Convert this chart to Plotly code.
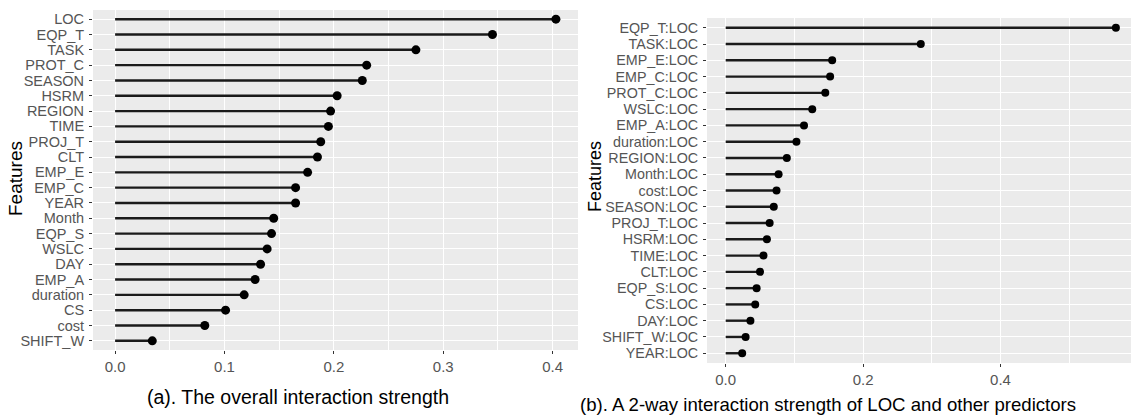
import plotly.graph_objects as go

# Overall interaction strength per feature (top to bottom)
features_a = ["LOC", "EQP_T", "TASK", "PROT_C", "SEASON", "HSRM", "REGION", "TIME",
              "PROJ_T", "CLT", "EMP_E", "EMP_C", "YEAR", "Month", "EQP_S", "WSLC",
              "DAY", "EMP_A", "duration", "CS", "cost", "SHIFT_W"]
strength_a = [0.403, 0.345, 0.275, 0.230, 0.226, 0.203, 0.197, 0.195,
              0.188, 0.185, 0.176, 0.165, 0.165, 0.145, 0.143, 0.139,
              0.133, 0.128, 0.118, 0.101, 0.082, 0.034]

# Two-way interaction strength of LOC with the other predictors (top to bottom)
features_b = ["EQP_T:LOC", "TASK:LOC", "EMP_E:LOC", "EMP_C:LOC", "PROT_C:LOC", "WSLC:LOC",
              "EMP_A:LOC", "duration:LOC", "REGION:LOC", "Month:LOC", "cost:LOC",
              "SEASON:LOC", "PROJ_T:LOC", "HSRM:LOC", "TIME:LOC", "CLT:LOC",
              "EQP_S:LOC", "CS:LOC", "DAY:LOC", "SHIFT_W:LOC", "YEAR:LOC"]
strength_b = [0.568, 0.284, 0.155, 0.152, 0.145, 0.126,
              0.114, 0.103, 0.089, 0.077, 0.074,
              0.070, 0.064, 0.060, 0.055, 0.050,
              0.045, 0.043, 0.036, 0.029, 0.024]

ticks_a = [0.0, 0.1, 0.2, 0.3, 0.4]
ticks_b = [0.0, 0.2, 0.4]

caption_a = "(a). The overall interaction strength"
caption_b = "(b). A 2-way interaction strength of LOC and other predictors"

W, H = 1131, 419
FONT = "Liberation Sans, Arial, sans-serif"
PANEL = "#EBEBEB"
STEM = "#1a1a1a"
TICK_TXT = "#555555"


def px_x(p):
    return p / W


def px_y(p):
    return 1 - p / H


def stems(cats, vals):
    xs, ys = [], []
    for c, v in zip(cats, vals):
        xs += [0, v, None]
        ys += [c, c, None]
    return xs, ys


fig = go.Figure()

for cats, vals, xa, ya, msize in [
    (features_a, strength_a, "x", "y", 9),
    (features_b, strength_b, "x2", "y2", 8),
]:
    sx, sy = stems(cats, vals)
    fig.add_trace(go.Scatter(x=sx, y=sy, mode="lines", xaxis=xa, yaxis=ya,
                             line=dict(color=STEM, width=2.4), hoverinfo="skip",
                             showlegend=False))
    fig.add_trace(go.Scatter(x=vals, y=cats, mode="markers", xaxis=xa, yaxis=ya,
                             marker=dict(color="black", size=msize), showlegend=False))


def xaxis_style(dom, rng, ticks, step, anchor):
    return dict(domain=dom, range=rng, anchor=anchor, tickmode="array", tickvals=ticks,
                ticktext=[f"{t:.1f}" for t in ticks], showgrid=True, gridcolor="white",
                gridwidth=1.3, zeroline=False, showline=False, ticks="outside",
                ticklen=3, tickwidth=1.2, tickcolor="#333333",
                tickfont=dict(family=FONT, size=15, color=TICK_TXT),
                minor=dict(dtick=step / 2, tick0=step / 2, showgrid=True,
                           gridcolor="white", gridwidth=0.6, ticks=""),
                fixedrange=True)


def yaxis_style(dom, cats, anchor, size):
    return dict(domain=dom, anchor=anchor, type="category", categoryorder="array",
                categoryarray=list(reversed(cats)), range=[-0.6, len(cats) - 0.4],
                tickmode="array", tickvals=cats, ticktext=cats,
                showgrid=True, gridcolor="white", gridwidth=1.3, zeroline=False,
                showline=False, ticks="outside", ticklen=3, tickwidth=1.2,
                tickcolor="#333333", ticklabelstandoff=2,
                tickfont=dict(family=FONT, size=size, color=TICK_TXT), fixedrange=True)


fig.update_layout(
    width=W, height=H, autosize=False,
    margin=dict(l=0, r=0, t=0, b=0, pad=0),
    paper_bgcolor="white", plot_bgcolor=PANEL,
    xaxis=xaxis_style([px_x(93), px_x(578)], [-0.0202, 0.4232], ticks_a, 0.1, "y"),
    yaxis=yaxis_style([px_y(350), px_y(10)], features_a, "x", 14.5),
    xaxis2=xaxis_style([px_x(707), 1.0], [-0.0272, 0.590], ticks_b, 0.2, "y2"),
    yaxis2=yaxis_style([px_y(363), px_y(18)], features_b, "x2", 14.3),
    annotations=[
        dict(text="Features", xref="paper", yref="paper", x=px_x(15), y=px_y(179),
             textangle=-90, showarrow=False, xanchor="center", yanchor="middle",
             font=dict(family=FONT, size=19, color="black")),
        dict(text="Features", xref="paper", yref="paper", x=px_x(595), y=px_y(177),
             textangle=-90, showarrow=False, xanchor="center", yanchor="middle",
             font=dict(family=FONT, size=18, color="black")),
        dict(text=caption_a, xref="paper", yref="paper", x=px_x(298), y=px_y(397),
             showarrow=False, xanchor="center", yanchor="middle",
             font=dict(family=FONT, size=19.5, color="black")),
        dict(text=caption_b, xref="paper", yref="paper", x=px_x(828), y=px_y(404),
             showarrow=False, xanchor="center", yanchor="middle",
             font=dict(family=FONT, size=18.6, color="black")),
    ],
)

fig.write_html("out.html")
